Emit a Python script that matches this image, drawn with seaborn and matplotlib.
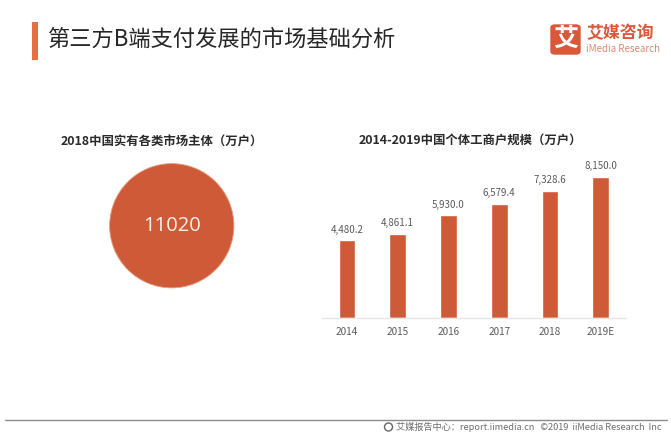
"""Rebuild the iiMedia B2B payment market chart."""

import matplotlib
matplotlib.use("Agg")
import matplotlib.pyplot as plt
import pandas as pd
import seaborn as sns
from matplotlib.patches import Ellipse, FancyBboxPatch, Rectangle

years = ["2014", "2015", "2016", "2017", "2018", "2019E"]
households = [4480.2, 4861.1, 5930.0, 6579.4, 7328.6, 8150.0]
market_total = [11020]

W, H = 671, 437
RED = "#cf5a38"


def box(x0, y0, x1, y1):
    """Pixel box, measured from the top left, to figure coordinates."""
    return [x0 / W, 1 - y1 / H, (x1 - x0) / W, (y1 - y0) / H]


def fig_text(fig, x, y, s, **kw):
    fig.text(x / W, 1 - y / H, s, **kw)


sns.set_theme(style="white")
plt.rcParams["font.family"] = ["Noto Sans CJK SC", "DejaVu Sans"]

fig = plt.figure(figsize=(W / 100, H / 100), dpi=100, facecolor="white")

# header
fig.add_artist(Rectangle((32 / W, 1 - 60 / H), 6 / W, 38 / H, transform=fig.transFigure, color="#e8703f", lw=0))
fig_text(fig, 47, 39, "第三方B端支付发展的市场基础分析", fontsize=16, color="#262626", va="center", weight="medium")

# logo
fig.add_artist(FancyBboxPatch((551 / W, 1 - 54 / H), 29 / W, 29 / H, boxstyle="round,pad=0,rounding_size=0.006",
                              transform=fig.transFigure, fc="#d9583a", ec="#d9583a", lw=1))
fig_text(fig, 565.5, 39, "艾", fontsize=18, color="white", ha="center", va="center", weight="bold")
fig_text(fig, 586, 33, "艾媒咨询", fontsize=12.2, color="#d9583a", va="center", weight="bold")
fig_text(fig, 586, 49, "iMedia Research", fontsize=7, color="#d98a70", va="center")

# circle
ax_pie = fig.add_axes(box(109, 163, 234.5, 288.5))
ax_pie.pie(market_total, colors=[RED], radius=1, wedgeprops={"edgecolor": "#e0a080", "linewidth": 0.6})
ax_pie.set_xlim(-1.01, 1.01)
ax_pie.set_ylim(-1.01, 1.01)
ax_pie.text(0, 0, str(market_total[0]), color="#fdf1e8", fontsize=14.5, ha="center", va="center", family="Open Sans")
fig_text(fig, 162, 142, "2018中国实有各类市场主体（万户）", fontsize=8.9, color="#2a2a2a", ha="center", va="center", weight="bold")

# bars
df = pd.DataFrame({"year": years, "households": households})
ax = fig.add_axes(box(321.6, 162, 626, 317.7))
sns.barplot(data=df, x="year", y="households", color=RED, saturation=1, width=0.33, ax=ax)
ax.set_xlim(-0.5, 5.5)
ax.set_ylim(0, 9000)
ax.set_xlabel("")
ax.set_ylabel("")
ax.set_yticks([])
ax.patch.set_alpha(0)
sns.despine(ax=ax, left=True)
ax.spines["bottom"].set_color("#e6e6e6")
ax.spines["bottom"].set_linewidth(1)
ax.tick_params(axis="x", length=0, labelsize=7.2, labelcolor="#5a5a5a", pad=7)
ax.bar_label(ax.containers[0], labels=[f"{v:,.1f}" for v in households], fontsize=7, color="#5a5a5a", padding=4)
fig_text(fig, 470.5, 141, "2014-2019中国个体工商户规模（万户）", fontsize=8.9, color="#2a2a2a", ha="center", va="center", weight="bold")

# footer
fig.add_artist(plt.Line2D([5 / W, 667 / W], [1 - 420 / H] * 2, color="#8c8c8c", lw=1))
fig.add_artist(Ellipse((388.5 / W, 1 - 427 / H), 8 / W, 8 / H, transform=fig.transFigure, fc="white", ec="#666666", lw=1))
fig_text(fig, 396, 427, "艾媒报告中心：report.iimedia.cn   ©2019  iiMedia Research  Inc", fontsize=6.6, color="#6e6e6e", va="center")

fig.savefig("out.png", dpi=100)
